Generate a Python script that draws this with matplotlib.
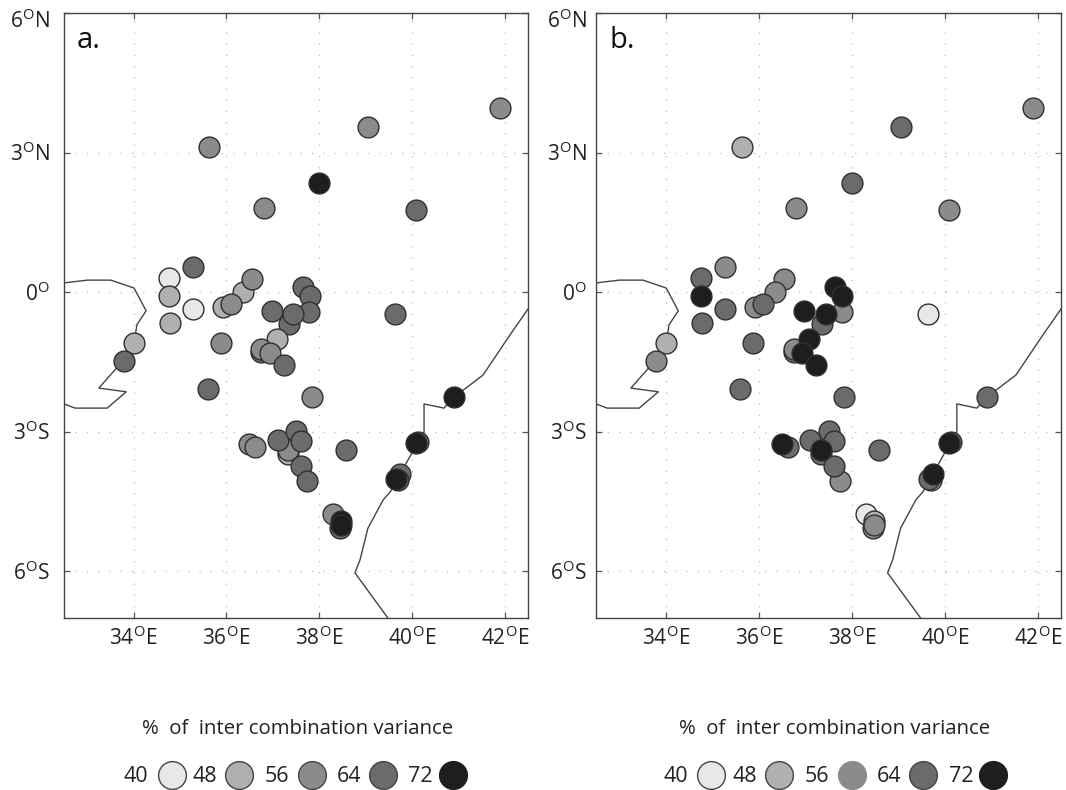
import numpy as np
import matplotlib
matplotlib.use("Agg")
import matplotlib.pyplot as plt
from matplotlib.transforms import ScaledTranslation

plt.rcParams['font.family'] = ['Open Sans', 'DejaVu Sans']
plt.rcParams['mathtext.fontset'] = 'custom'
plt.rcParams['mathtext.rm'] = 'Open Sans'

lon = [41.90,39.05,35.63,38.00,36.81,40.09,35.28,34.76,34.76,35.28,34.78,34.01,33.79,35.88,35.60,37.84,
       36.55,36.36,35.93,36.10,36.98,37.65,37.80,37.78,37.44,37.35,37.09,36.75,36.94,36.75,37.24,
       36.49,36.62,37.11,37.50,37.61,37.33,37.33,37.61,37.74,38.58,38.30,38.47,38.47,38.45,
       40.09,40.13,39.66,39.74,39.70,40.91,39.63]
lat = [3.96,3.55,3.12,2.35,1.81,1.77,0.54,0.31,-0.08,-0.36,-0.66,-1.09,-1.48,-1.09,-2.08,-2.25,
       0.28,0.01,-0.32,-0.25,-0.40,0.11,-0.08,-0.42,-0.47,-0.68,-1.00,-1.22,-1.31,-1.28,-1.56,
       -3.26,-3.33,-3.17,-2.98,-3.20,-3.39,-3.48,-3.73,-4.06,-3.39,-4.76,-4.92,-5.00,-5.07,
       -3.24,-3.22,-4.01,-3.91,-4.03,-2.25,-0.47]
level_a = [56,56,56,72,56,64,64,40,48,40,48,48,64,56,64,56,
           56,48,48,56,64,64,64,64,64,64,48,56,56,64,64,
           56,56,64,64,64,56,48,64,64,64,56,72,72,64,
           72,64,72,64,64,72,64]
level_b = [56,64,48,64,56,56,56,64,72,64,64,48,56,64,64,64,
           56,56,56,64,72,72,72,56,72,64,72,56,72,64,72,
           72,64,64,64,64,72,64,64,56,64,40,48,56,56,
           72,64,64,72,48,64,40]
first_a = [29,25]
first_b = [29,41,42,44]

west_lon = [32.5,33.0,33.51,34.01,34.27,34.07,34.01,33.88,33.25,33.84,33.43,32.74,32.5]
west_lat = [0.2,0.26,0.26,0.09,-0.40,-0.70,-1.09,-1.35,-2.06,-2.14,-2.49,-2.49,-2.40]
east_lon = [39.48,38.77,38.88,39.05,39.38,39.53,40.0,40.26,40.26,40.69,40.91,41.53,42.11,42.5]
east_lat = [-7.0,-6.03,-5.75,-5.07,-4.46,-4.29,-3.45,-3.0,-2.40,-2.49,-2.25,-1.78,-0.92,-0.36]

lon_ticks = [34,36,38,40,42]
lat_ticks = [6,3,0,-3,-6]
legend_levels = [40,48,56,64,72]
legend_title = "%  of  inter combination variance"
colors = {40:'#e8e8e8',48:'#b0b0b0',56:'#8b8b8b',64:'#6b6b6b',72:'#1e1e1e'}

W,H = 1066,790
fig = plt.figure(figsize=(W/100,H/100),dpi=100)

def lat_label(v):
    if v == 0:
        return r'0$^{\mathrm{O}}$'
    return rf'{abs(v)}$^{{\mathrm{{O}}}}$' + ('N' if v>0 else 'S')

def panel(x0,x1,levels,first,tag,ypad):
    ax = fig.add_axes([x0/W,1-618/H,(x1-x0)/W,(618-13)/H])
    ax.set_xlim(32.5,42.5); ax.set_ylim(-7,6)
    ax.set_xticks(lon_ticks)
    ax.set_xticklabels([rf'{v}$^{{\mathrm{{O}}}}$E' for v in lon_ticks],fontsize=15,color='#222222')
    ax.set_yticks(lat_ticks)
    ax.set_yticklabels([lat_label(v) for v in lat_ticks],fontsize=15,color='#222222')
    ax.tick_params(direction='in',length=4,width=0.9,color='#555555',top=True,right=True)
    ax.tick_params(axis='y',pad=ypad)
    ax.tick_params(axis='x',pad=6)
    up = ScaledTranslation(0,1/100,fig.dpi_scale_trans)
    up6 = ScaledTranslation(0,4/100,fig.dpi_scale_trans)
    for i,lab in enumerate(ax.get_yticklabels()):
        lab.set_transform(lab.get_transform()+(up6 if i==0 else up))
    ax.get_yticklabels()[0].set_verticalalignment('top')
    for s in ax.spines.values():
        s.set_color('#444444'); s.set_linewidth(1.0)
    ax.grid(True,color='#bbbbbb',linewidth=0.9,linestyle=(0,(1,8)))
    ax.set_axisbelow(True)
    ax.plot(west_lon,west_lat,color='#444444',lw=1.0,zorder=2)
    ax.plot(east_lon,east_lat,color='#444444',lw=1.0,zorder=2)
    order = list(first)
    for lev in legend_levels:
        order += [i for i,l in enumerate(levels) if l==lev and i not in first]
    for z,i in enumerate(order):
        ax.scatter(lon[i],lat[i],s=225,color=colors[levels[i]],edgecolors='#303030',linewidths=1.0,zorder=3+z)
    ax.text(0.028,0.955,tag,transform=ax.transAxes,fontsize=21,color='#111111',va='center',ha='left')

panel(64,528,level_a,first_a,'a.',10)
panel(596,1061,level_b,first_b,'b.',7)

ov = fig.add_axes([0,0,1,1],facecolor='none')
ov.set_xlim(0,W); ov.set_ylim(H,0); ov.axis('off')
for title_x,txt_x,circ_x,no_edge in [
    (298,[136,205,277,349,420],[172,239,312,383,453],None),
    (835,[676,745,817,889,961],[711,779,852,923,993],56)]:
    ov.text(title_x,729,legend_title,ha='center',va='center',fontsize=14.7,color='#222222')
    for lev,tx,cx in zip(legend_levels,txt_x,circ_x):
        ov.text(tx,777,str(lev),ha='center',va='center',fontsize=15.5,color='#222222')
        ec = colors[lev] if lev==no_edge else ('#1e1e1e' if lev==72 else '#444444')
        ov.scatter(cx,775,s=400,color=colors[lev],edgecolors=ec,linewidths=1.0)

fig.savefig('out.png',dpi=100)
